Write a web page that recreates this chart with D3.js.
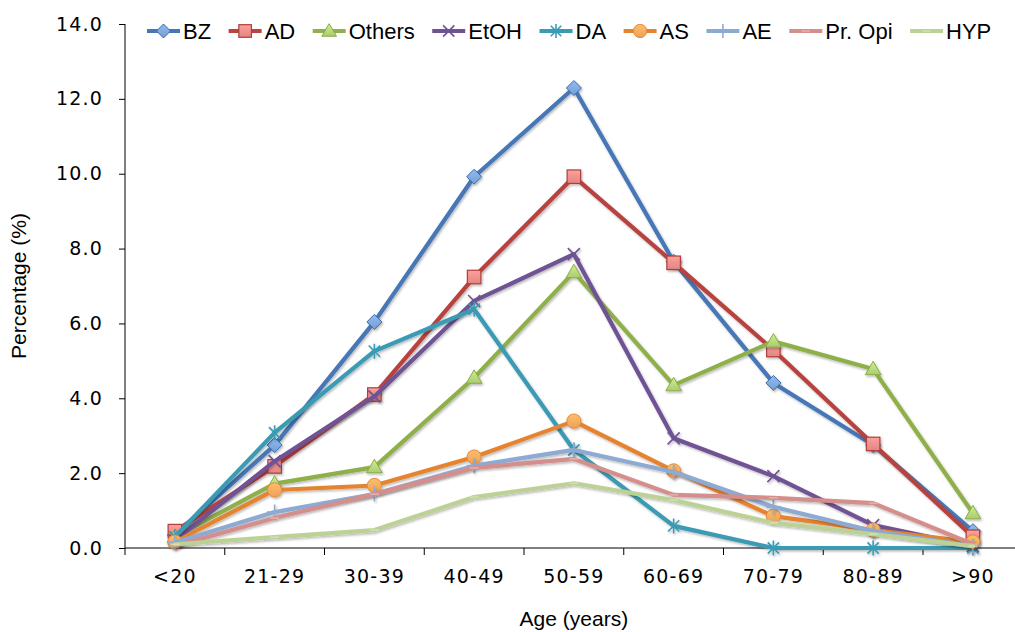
<!DOCTYPE html>
<html>
<head>
<meta charset="utf-8">
<script src="https://cdn.jsdelivr.net/npm/d3@7"></script>
<style>
  html, body { margin: 0; padding: 0; background: #fff; }
  svg { display: block; }
</style>
</head>
<body>
<svg id="chart" width="1015" height="632"></svg>
<script>
// Age groups on the x axis
const categories = ["<20", "21-29", "30-39", "40-49", "50-59", "60-69", "70-79", "80-89", ">90"];

// Percentage per age group for each substance
const BZ     = [0.35, 2.75, 6.04, 9.92, 12.29, 7.65, 4.41, 2.75, 0.45];
const AD     = [0.45, 2.18, 4.10, 7.24, 9.92, 7.62, 5.29, 2.78, 0.30];
const Others = [0.30, 1.72, 2.16, 4.55, 7.37, 4.35, 5.52, 4.78, 0.93];
const EtOH   = [0.20, 2.32, 4.05, 6.60, 7.85, 2.93, 1.92, 0.61, 0.05];
const DA     = [0.30, 3.08, 5.26, 6.38, 2.62, 0.59, 0.00, 0.00, 0.00];
const AS     = [0.16, 1.55, 1.67, 2.43, 3.39, 2.06, 0.85, 0.48, 0.16];
const AE     = [0.15, 0.96, 1.44, 2.20, 2.62, 2.03, 1.10, 0.45, 0.05];
const PrOpi  = [0.05, 0.80, 1.44, 2.14, 2.38, 1.42, 1.34, 1.20, 0.10];
const HYP    = [0.10, 0.29, 0.48, 1.36, 1.73, 1.28, 0.67, 0.37, 0.05];

const seriesNames = ["BZ", "AD", "Others", "EtOH", "DA", "AS", "AE", "Pr. Opi", "HYP"];
const seriesValues = [BZ, AD, Others, EtOH, DA, AS, AE, PrOpi, HYP];

// y-axis tick values
const yTicks = [0, 2, 4, 6, 8, 10, 12, 14];

// Look of each series: line colour, marker shape and marker colours
const styles = {
  "BZ":      { line: "#4677b6", marker: "diamond",  fill: "#7ea6da", stroke: "#3d6aa6" },
  "AD":      { line: "#b8433f", marker: "square",   fill: "#ec8d8a", stroke: "#b13e3a" },
  "Others":  { line: "#8fb04a", marker: "triangle", fill: "#b5d57a", stroke: "#8aab45" },
  "EtOH":    { line: "#6f5294", marker: "x",        fill: "none",    stroke: "#6f5294" },
  "DA":      { line: "#3a9bb4", marker: "star",     fill: "none",    stroke: "#3a9bb4" },
  "AS":      { line: "#e5832f", marker: "circle",   fill: "#f9a95e", stroke: "#e7873a" },
  "AE":      { line: "#8eaad2", marker: "plus",     fill: "none",    stroke: "#8eaad2" },
  "Pr. Opi": { line: "#d48e8c", marker: "dash",     fill: "none",    stroke: "#e4b3b1" },
  "HYP":     { line: "#bcd294", marker: "dash",     fill: "none",    stroke: "#d2e2b6" }
};

const svg = d3.select("#chart");
const margin = { left: 125, top: 24, bottom: 548 };
const step = 99.75;

const x = d3.scaleBand()
  .domain(categories)
  .range([margin.left, margin.left + step * categories.length])
  .paddingInner(0).paddingOuter(0);
const xc = d => x(d) + x.bandwidth() / 2;

const y = d3.scaleLinear().domain([0, 14]).range([margin.bottom, margin.top]);

// Soft shadow under lines and markers
const defs = svg.append("defs");
const shadow = defs.append("filter").attr("id", "shadow")
  .attr("x", "-20%").attr("y", "-20%").attr("width", "140%").attr("height", "140%");
shadow.append("feDropShadow").attr("dx", 1.2).attr("dy", 1.6)
  .attr("stdDeviation", 1.2).attr("flood-color", "#000").attr("flood-opacity", 0.28);

// Gradient fills for the filled markers
function addGradient(id, base) {
  const g = defs.append("linearGradient").attr("id", id)
    .attr("x1", 0).attr("y1", 0).attr("x2", 0).attr("y2", 1);
  g.append("stop").attr("offset", "0%").attr("stop-color", d3.color(base).brighter(0.35));
  g.append("stop").attr("offset", "100%").attr("stop-color", d3.color(base).darker(0.15));
}
seriesNames.forEach((n, i) => {
  if (styles[n].fill !== "none") addGradient("grad" + i, styles[n].fill);
});

// Marker drawing
function drawMarker(sel, kind, st, gradId, size) {
  const s = size;
  switch (kind) {
    case "diamond":
      sel.append("path").attr("d", `M0,${-s}L${s},0L0,${s}L${-s},0Z`)
        .attr("fill", `url(#${gradId})`).attr("stroke", st.stroke).attr("stroke-width", 1);
      break;
    case "square":
      sel.append("rect").attr("x", -s * 0.9).attr("y", -s * 0.9)
        .attr("width", s * 1.8).attr("height", s * 1.8)
        .attr("fill", `url(#${gradId})`).attr("stroke", st.stroke).attr("stroke-width", 1.2);
      break;
    case "triangle":
      sel.append("path").attr("d", `M0,${-s * 1.05}L${s * 1.05},${s * 0.75}L${-s * 1.05},${s * 0.75}Z`)
        .attr("fill", `url(#${gradId})`).attr("stroke", st.stroke).attr("stroke-width", 1);
      break;
    case "circle":
      sel.append("circle").attr("r", s * 0.95)
        .attr("fill", `url(#${gradId})`).attr("stroke", st.stroke).attr("stroke-width", 1);
      break;
    case "x": {
      const a = s * 0.8;
      sel.append("path").attr("d", `M${-a},${-a}L${a},${a}M${-a},${a}L${a},${-a}`)
        .attr("stroke", st.stroke).attr("stroke-width", 1.6).attr("fill", "none");
      break;
    }
    case "star": {
      const a = s * 0.75;
      sel.append("path").attr("d", `M${-a},${-a}L${a},${a}M${-a},${a}L${a},${-a}M0,${-s}L0,${s}`)
        .attr("stroke", st.stroke).attr("stroke-width", 1.6).attr("fill", "none");
      break;
    }
    case "plus":
      sel.append("path").attr("d", `M0,${-s}L0,${s}M${-s},0L${s},0`)
        .attr("stroke", st.stroke).attr("stroke-width", 1.6).attr("fill", "none");
      break;
    case "dash":
      sel.append("path").attr("d", `M${-s * 0.6},0L${s * 0.6},0`)
        .attr("stroke", st.stroke).attr("stroke-width", 1.4).attr("fill", "none");
      break;
  }
}

// Axes
const axisColor = "#000";
const tickFont = "DejaVu Sans, sans-serif";

const yAxis = svg.append("g")
  .attr("transform", `translate(${margin.left},0)`)
  .call(d3.axisLeft(y).tickValues(yTicks).tickFormat(d3.format(".1f")).tickSize(6).tickPadding(16));
yAxis.select(".domain").attr("d", `M0,${margin.top}V${margin.bottom}`).attr("stroke", axisColor);
yAxis.selectAll(".tick line").attr("stroke", axisColor);
yAxis.selectAll(".tick text")
  .attr("font-family", tickFont).attr("font-size", 19).attr("letter-spacing", 1.2)
  .attr("fill", "#000");

const xAxis = svg.append("g")
  .attr("transform", `translate(0,${margin.bottom})`)
  .call(d3.axisBottom(x).tickSize(0).tickPadding(22));
xAxis.select(".domain").attr("d", `M${margin.left},0H${x.range()[1]}`).attr("stroke", axisColor);
xAxis.selectAll(".tick text")
  .attr("font-family", tickFont).attr("font-size", 19).attr("letter-spacing", 1.2)
  .attr("fill", "#000");
// tick marks sit on the boundaries between age groups
xAxis.selectAll("line.boundary")
  .data(d3.range(categories.length + 1))
  .join("line").attr("class", "boundary")
  .attr("x1", i => x.range()[0] + i * x.step()).attr("x2", i => x.range()[0] + i * x.step())
  .attr("y1", 0).attr("y2", 7).attr("stroke", axisColor);

// Axis titles
svg.append("text")
  .attr("transform", `translate(26,${(margin.top + margin.bottom) / 2}) rotate(-90)`)
  .attr("text-anchor", "middle")
  .attr("font-family", "Liberation Sans, Arial, sans-serif").attr("font-size", 21)
  .text("Percentage (%)");

svg.append("text")
  .attr("x", (x.range()[0] + x.range()[1]) / 2).attr("y", 626)
  .attr("text-anchor", "middle")
  .attr("font-family", "Liberation Sans, Arial, sans-serif").attr("font-size", 21)
  .text("Age (years)");

// Series lines and markers
const line = d3.line().x((d, i) => xc(categories[i])).y(d => y(d));
const plot = svg.append("g");
seriesNames.forEach((name, si) => {
  const st = styles[name];
  const vals = seriesValues[si];
  const g = plot.append("g").attr("filter", "url(#shadow)");
  g.append("path").datum(vals)
    .attr("d", line).attr("fill", "none")
    .attr("stroke", st.line).attr("stroke-width", 4.2)
    .attr("stroke-linejoin", "round").attr("stroke-linecap", "round");
  vals.forEach((v, i) => {
    const m = g.append("g").attr("transform", `translate(${xc(categories[i])},${y(v)})`);
    drawMarker(m, st.marker, st, "grad" + si, 7.5);
  });
});

// Legend across the top
const legend = svg.append("g").attr("transform", "translate(147,31)");
let lx = 0;
seriesNames.forEach((name, si) => {
  const st = styles[name];
  const item = legend.append("g").attr("transform", `translate(${lx},0)`);
  item.append("line").attr("x1", 0).attr("x2", 33).attr("y1", 0).attr("y2", 0)
    .attr("stroke", st.line).attr("stroke-width", 4.2);
  const m = item.append("g").attr("transform", "translate(16.5,0)");
  drawMarker(m, st.marker, st, "grad" + si, 7);
  const t = item.append("text").attr("x", 36).attr("y", 8)
    .attr("font-family", "Liberation Sans, Arial, sans-serif").attr("font-size", 22)
    .text(name);
  lx += 36 + t.node().getComputedTextLength() + 17.5;
});
</script>
</body>
</html>
